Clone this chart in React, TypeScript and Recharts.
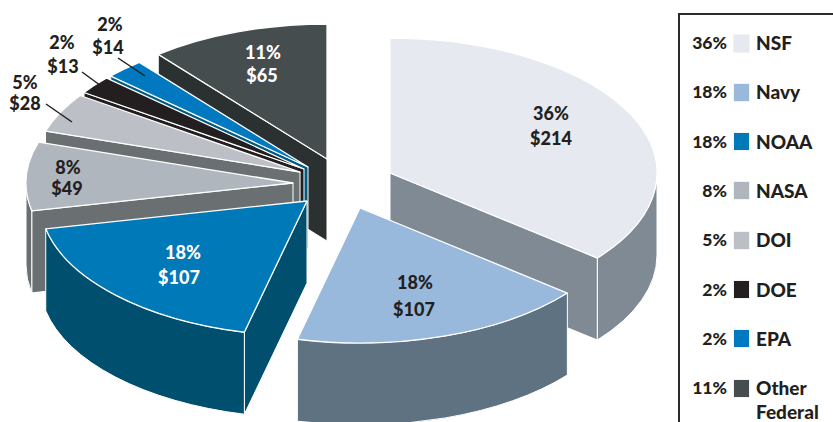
import React from 'react';
import { PieChart, Pie } from 'recharts';

const categories = ['NSF', 'Navy', 'NOAA', 'NASA', 'DOI', 'DOE', 'EPA', 'Other Federal'];
const amounts = [214, 107, 107, 49, 28, 13, 14, 65];
const shares = [36, 18, 18, 8, 5, 2, 2, 11];

// painter's order, walking counter-clockwise from the low edge of NSF
const drawOrder = [0, 7, 6, 5, 4, 3, 2, 1];

const WIDTH = 833;
const HEIGHT = 422;
const CX = 390;
const CY = 173;
const RX = 267;
const RY = 135;
const DEPTH = 82;
const FONT = 'Lato, "Open Sans", sans-serif';

const sliceStyles: Record<string, any> = {
  NSF: { top: '#e6e9ef', wall: '#7f8a94', shift: [0, 0], text: '#231f20', pct: [551, 113], val: [551, 138] },
  Navy: { top: '#99b9dc', wall: '#5f7282', shift: [-30, 35], text: '#231f20', pct: [415, 282], val: [414, 309] },
  NOAA: { top: '#0079b8', wall: '#004f6e', shift: [-83, 28], text: '#ffffff', pct: [183, 252], val: [179, 277] },
  NASA: { top: '#b0b6bd', wall: '#6a7072', shift: [-97, 10], text: '#231f20', pct: [68, 167], val: [67, 188] },
  DOI: { top: '#bcc0c6', wall: '#6a7072', shift: [-90, -1], text: '#231f20', pct: [25, 82], val: [25, 103], leader: [46, 104, 72, 122] },
  DOE: { top: '#231f20', wall: '#231f20', shift: [-86, -4], text: '#231f20', pct: [62, 42], val: [63, 66], leader: [82, 72, 108, 91] },
  EPA: { top: '#0079c1', wall: '#005a80', shift: [-82, -6], text: '#231f20', pct: [110, 24], val: [108, 47], leader: [118, 58, 145, 76] },
  'Other Federal': { top: '#464d4f', wall: '#2a3130', shift: [-63, -14], text: '#ffffff', pct: [263, 52], val: [262, 75] },
};

const pieData = drawOrder.map((i) => ({ name: categories[i], value: amounts[i], share: shares[i] }));

// NSF starts at 12 o'clock and runs clockwise, so its low edge sets the start
const lowEdge = 90 - (360 * amounts[0]) / amounts.reduce((a, b) => a + b, 0);

const rad = (deg: number) => (deg * Math.PI) / 180;

function Slice(props: any) {
  const { name, cx, cy, outerRadius, startAngle, endAngle } = props;
  const style = sliceStyles[name];
  const ox = cx + style.shift[0];
  const oy = cy + style.shift[1];
  const ry = (outerRadius * RY) / RX;
  const rim = (a: number) => [ox + outerRadius * Math.cos(rad(a)), oy - ry * Math.sin(rad(a))];
  const arc = (a: number, b: number, sweep: number) => {
    const p = rim(b);
    return `A ${outerRadius} ${ry} 0 ${Math.abs(b - a) > 180 ? 1 : 0} ${sweep} ${p[0]} ${p[1]}`;
  };

  // flat cut through the wedge, only when it faces the viewer
  const face = (a: number) => {
    const p = rim(a);
    return `M ${ox} ${oy} L ${p[0]} ${p[1]} L ${p[0]} ${p[1] + DEPTH} L ${ox} ${oy + DEPTH} Z`;
  };

  // outer curved wall for the part of the rim on the near side
  const wall = (a: number, b: number) => {
    const from = rim(a);
    const to = rim(b);
    return (
      `M ${from[0]} ${from[1]} ${arc(a, b, 0)} L ${to[0]} ${to[1] + DEPTH} ` +
      `A ${outerRadius} ${ry} 0 ${Math.abs(b - a) > 180 ? 1 : 0} 1 ${from[0]} ${from[1] + DEPTH} Z`
    );
  };

  const walls: string[] = [];
  if (Math.cos(rad(endAngle)) < -0.001) walls.push(face(endAngle));
  if (Math.cos(rad(startAngle)) > 0.001) walls.push(face(startAngle));
  [[-180, 0], [180, 360]].forEach(([lo, hi]) => {
    const a = Math.max(startAngle, lo);
    const b = Math.min(endAngle, hi);
    if (b > a) walls.push(wall(a, b));
  });

  const s = rim(startAngle);
  const top = `M ${ox} ${oy} L ${s[0]} ${s[1]} ${arc(startAngle, endAngle, 0)} Z`;

  return (
    <g>
      {walls.map((d, i) => (
        <path key={i} d={d} fill={style.wall} stroke="#ffffff" strokeWidth={1} strokeLinejoin="round" />
      ))}
      <path d={top} fill={style.top} stroke="#ffffff" strokeWidth={1.3} strokeLinejoin="round" />
    </g>
  );
}

function SliceLabel(props: any) {
  const { name, value, payload } = props;
  const style = sliceStyles[name];
  const share = payload?.share ?? shares[categories.indexOf(name)];
  const common = { fontFamily: FONT, fontWeight: 900, fontSize: 18, fill: style.text, textAnchor: 'middle' as const, dominantBaseline: 'central' as const };
  return (
    <g>
      {style.leader && (
        <line x1={style.leader[0]} y1={style.leader[1]} x2={style.leader[2]} y2={style.leader[3]} stroke="#231f20" strokeWidth={1.5} />
      )}
      <text x={style.pct[0]} y={style.pct[1]} {...common}>{share}%</text>
      <text x={style.val[0]} y={style.val[1]} {...common}>${value}</text>
    </g>
  );
}

function LegendBox() {
  return (
    <div style={{ position: 'absolute', left: 678, top: 13, width: 170, height: 430, borderLeft: '2px solid #2b2b2b', borderTop: '2px solid #2b2b2b', boxSizing: 'border-box' }}>
      {categories.map((name, i) => {
        const rowY = 43 + i * 49.3 - 15;
        const lines = name.split(' ');
        return (
          <React.Fragment key={name}>
            <div style={{ position: 'absolute', right: 168 - 47, top: rowY - 12, lineHeight: '24px', fontFamily: FONT, fontWeight: 900, fontSize: 17.5, color: '#231f20', whiteSpace: 'nowrap' }}>
              {shares[i]}%
            </div>
            <div style={{ position: 'absolute', left: 54, top: rowY - 8.5, width: 15, height: 17, background: sliceStyles[name].top, boxShadow: '0 0 0 0.5px #e8e8e8' }} />
            {lines.map((word, k) => (
              <div key={word} style={{ position: 'absolute', left: 76, top: rowY - 12 + k * 24, lineHeight: '24px', fontFamily: FONT, fontWeight: 900, fontSize: 19, color: '#231f20', whiteSpace: 'nowrap' }}>
                {word}
              </div>
            ))}
          </React.Fragment>
        );
      })}
    </div>
  );
}

export default function App() {
  return (
    <div style={{ position: 'absolute', left: 0, top: 0, width: WIDTH, height: HEIGHT, overflow: 'hidden', background: '#ffffff' }}>
      <PieChart width={WIDTH} height={HEIGHT} margin={{ top: 0, right: 0, bottom: 0, left: 0 }}>
        <Pie
          data={pieData}
          dataKey="value"
          nameKey="name"
          cx={CX}
          cy={CY}
          innerRadius={0}
          outerRadius={RX}
          startAngle={lowEdge}
          endAngle={lowEdge + 360}
          stroke="none"
          shape={Slice}
          label={SliceLabel}
          labelLine={false}
          isAnimationActive={false}
        />
      </PieChart>
      <LegendBox />
    </div>
  );
}
